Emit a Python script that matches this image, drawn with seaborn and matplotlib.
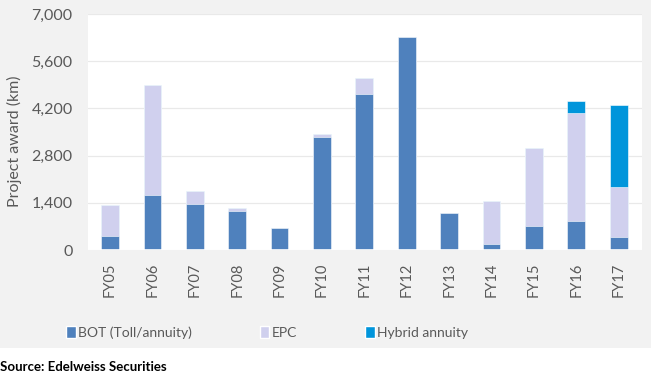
import numpy as np
import pandas as pd
import matplotlib
matplotlib.use('Agg')
import matplotlib.pyplot as plt
from matplotlib.patches import Rectangle, Patch
import seaborn as sns

years = ['FY05', 'FY06', 'FY07', 'FY08', 'FY09', 'FY10', 'FY11',
         'FY12', 'FY13', 'FY14', 'FY15', 'FY16', 'FY17']
bot = [430, 1630, 1355, 1150, 645, 3340, 4640, 6310, 1110, 190, 715, 860, 400]
epc = [890, 3265, 385, 95, 0, 100, 465, 0, 0, 1265, 2300, 3195, 1480]
hybrid = [0, 0, 0, 0, 0, 0, 0, 0, 0, 0, 0, 355, 2430]
yticks = [0, 1400, 2800, 4200, 5600, 7000]

c_bot = '#4f81bd'
c_epc = '#d0d0ee'
c_hyb = '#0095db'
txt = '#595959'

df = pd.DataFrame({'year': years, 'bot': bot, 'epc': epc, 'hybrid': hybrid})
df['bot_epc'] = df['bot'] + df['epc']
df['total'] = df['bot_epc'] + df['hybrid']

sns.set_style('white')
plt.rcParams['font.family'] = ['Lato', 'DejaVu Sans']

fig = plt.figure(figsize=(6.51, 3.80), dpi=100)
fig.patch.set_facecolor('white')
fig.patches.append(Rectangle((0, 32 / 380), 1, 348 / 380, transform=fig.transFigure,
                             facecolor='#f2f2f2', edgecolor='none', zorder=-10))

ax = fig.add_axes([88 / 651, 1 - 250 / 380, 554 / 651, 236 / 380])
ax.set_facecolor('white')

# stacked bars drawn back to front
for col, color in [('total', c_hyb), ('bot_epc', c_epc), ('bot', c_bot)]:
    sns.barplot(data=df, x='year', y=col, color=color, width=0.42, errorbar=None,
                edgecolor='white', linewidth=0.4, saturation=1, ax=ax)

ax.set_ylim(0, 7000)
ax.set_xlim(-0.52, 12.55)
ax.set_yticks(yticks)
ax.set_yticklabels([f'{v:,}' for v in yticks])
ax.yaxis.grid(True, color='#e9e9e9', linewidth=0.9)
ax.set_axisbelow(True)
for s in ax.spines.values():
    s.set_visible(False)
ax.axhline(0, color='white', linewidth=1.2, zorder=5)

ax.tick_params(axis='y', length=0, pad=11, labelsize=11.5, labelcolor=txt)
ax.tick_params(axis='x', length=0, pad=9, labelsize=10.5, labelcolor=txt, labelrotation=90)
ax.set_xlabel('')
ax.set_ylabel('Project award (km)', fontsize=11.5, color=txt)
ax.yaxis.set_label_coords(-0.12, 0.46)

handles = [Patch(facecolor=c_bot), Patch(facecolor=c_epc), Patch(facecolor=c_hyb)]
fig.legend(handles, ['BOT (Toll/annuity)', 'EPC', 'Hybrid annuity'], loc='center',
           bbox_to_anchor=(0.41, 0.126), ncol=3, frameon=False, fontsize=10,
           handlelength=0.7, handleheight=1.05, handletextpad=0.15, columnspacing=4.9,
           labelcolor=txt)

fig.text(0.0, 0.034, 'Source: Edelweiss Securities', fontsize=9.5, fontweight='bold',
         color='black', va='center', ha='left')

fig.savefig('out.png', dpi=100)
